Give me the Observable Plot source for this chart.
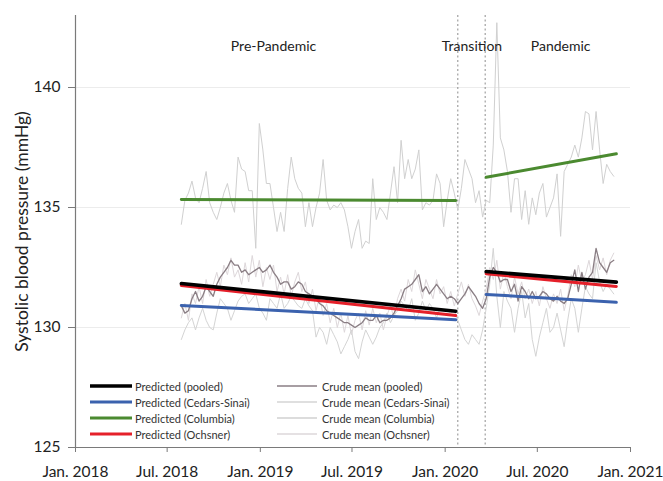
<!DOCTYPE html>
<html>
<head>
<meta charset="utf-8">
<script src="https://cdn.jsdelivr.net/npm/d3@7"></script>
<script src="https://cdn.jsdelivr.net/npm/@observablehq/plot@0.6"></script>
<style>
  html, body { margin: 0; padding: 0; background: #fff; }
  #wrap { position: relative; width: 663px; height: 481px; font-family: Lato, "Open Sans", sans-serif; }
  #legend { position: absolute; left: 90px; top: 378px; font-size: 11px; color: #333; }
  .row { position: absolute; height: 16px; display: flex; align-items: center; white-space: nowrap; }
  .row svg { display: block; margin-right: 3px; }
</style>
</head>
<body>
<div id="wrap"></div>
<script>
// ---- Data (weekly crude means, first week starting 2018-07-29) ----
const firstWeek = "2018-07-29";
const crudePooled = [130.9,130.6,130.7,131.2,131.5,131.1,131.3,131.7,131.5,131.3,131.8,132.1,132.3,132.5,132.8,132.6,132.6,132.3,132.4,132.2,
132.3,132.4,132.5,132.3,132.4,132.6,132.3,132.1,131.8,131.9,131.9,131.6,131.7,131.9,131.8,131.5,131.4,131.3,131.2,131.0,
130.9,130.7,130.6,130.5,130.4,130.3,130.2,130.2,130.1,130.0,130.1,130.2,130.4,130.3,130.3,130.5,130.2,130.3,130.3,130.4,
130.6,130.9,131.2,131.6,131.7,131.8,132.0,132.2,131.5,131.7,131.4,131.6,131.8,131.6,131.4,131.2,131.3,131.2,131.0,131.2,
131.4,131.7,131.5,131.3,131.0,130.8,131.2,132.1,132.5,132.3,131.9,132.0,132.0,131.5,131.8,131.1,131.7,131.5,131.2,131.5,
131.2,131.3,131.5,131.4,131.2,131.1,131.3,131.1,131.0,131.2,131.8,132.4,131.5,132.3,131.6,132.1,132.3,133.3,132.7,132.5,
132.3,132.7,132.8];
const crudeCedars = [129.5,129.9,130.2,130.4,129.9,130.4,130.8,130.3,130.0,129.9,130.6,131.2,131.0,130.8,130.3,130.7,131.1,131.3,131.4,131.0,
131.2,131.4,130.8,130.6,130.3,131.2,131.0,130.8,131.4,130.8,131.0,131.3,131.1,130.9,130.8,131.2,130.9,130.7,129.6,130.0,
129.8,129.3,130.0,129.7,129.4,128.9,129.2,129.5,129.9,129.0,128.7,129.4,129.9,129.6,129.3,129.6,130.0,130.2,130.6,130.2,
130.5,130.7,131.1,130.9,130.7,131.2,130.3,130.6,131.1,130.7,131.0,130.8,130.4,130.8,130.7,130.7,130.6,130.7,130.3,129.9,
129.5,129.3,129.7,129.5,129.3,129.9,130.8,131.8,133.3,131.3,130.0,131.5,131.1,130.8,129.8,130.8,131.5,130.4,131.0,129.5,
128.8,129.6,130.2,130.8,129.8,130.0,130.6,129.9,129.2,130.3,131.2,130.8,129.8,130.8,131.7,131.4,131.2,132.7,131.9,131.5,
131.8,131.6,131.4];
const crudeColumbia = [134.3,135.3,135.6,136.1,135.4,135.2,135.8,136.5,135.2,134.8,134.5,135.0,135.6,136.0,135.3,134.8,137.1,136.6,136.5,135.7,
135.7,133.3,138.5,137.4,136.0,136.0,135.0,134.0,134.8,134.0,135.8,137.1,136.2,135.8,135.6,134.2,135.2,134.2,135.0,135.6,
137.0,135.3,134.9,135.1,135.0,135.2,134.9,134.2,133.3,134.0,134.5,133.3,133.6,133.5,136.2,134.5,135.0,134.8,134.5,135.6,
136.7,135.2,137.8,136.2,137.0,136.2,136.6,137.4,134.9,135.2,135.1,135.3,136.4,136.0,134.2,135.3,136.2,135.6,134.9,135.8,
137.0,136.6,136.2,135.2,135.7,134.6,135.3,135.2,137.6,142.7,137.9,137.4,136.5,134.8,136.2,136.2,134.5,135.7,134.3,135.4,
134.7,135.6,136.0,134.6,135.0,135.4,136.4,133.8,136.5,136.8,137.1,137.6,137.1,137.9,139.0,138.9,137.4,139.0,137.4,136.0,
136.8,136.5,136.3];
const crudeOchsner = [130.4,131.0,130.3,131.4,131.0,131.7,131.0,132.0,131.3,131.8,132.3,131.7,132.6,132.2,132.9,132.1,132.4,131.8,132.7,131.9,
133.0,132.1,132.8,131.7,132.5,132.0,132.6,131.5,132.1,131.4,132.2,131.3,131.9,132.3,131.5,131.9,131.0,131.6,130.7,131.3,
130.5,131.0,130.2,130.8,130.0,130.6,129.8,130.5,129.7,130.3,130.6,129.9,130.7,130.1,130.8,130.2,130.6,129.9,130.5,130.9,
130.4,131.2,131.6,131.1,132.0,131.5,132.4,131.8,131.2,132.0,131.6,131.2,132.0,131.4,131.7,131.0,131.5,130.9,131.4,131.9,
131.3,131.8,131.2,130.9,130.5,131.1,131.6,132.5,132.0,132.8,131.6,132.3,131.7,131.2,132.1,131.4,131.9,131.2,131.6,131.0,
131.5,130.9,131.7,131.2,130.8,131.4,131.0,131.6,130.7,131.3,132.2,131.7,132.6,131.9,132.2,132.8,132.0,133.0,132.4,132.9,
132.2,132.8,133.1];

// ---- Predicted (segmented regression) ----
const predSeries = ["pooled", "Cedars-Sinai", "Columbia", "Ochsner"];
const prePeriod = ["2018-07-29", "2020-01-22"];
const pandemicPeriod = ["2020-03-22", "2020-12-04"];
const preStartVals = [131.83, 130.92, 135.33, 131.75];
const preEndVals   = [130.68, 130.32, 135.29, 130.50];
const panStartVals = [132.33, 131.38, 136.26, 132.24];
const panEndVals   = [131.89, 131.05, 137.24, 131.71];

// ---- Periods / annotations / axes ----
const transitionBounds = ["2020-01-26", "2020-03-20"];
const periodLabels = ["Pre-Pandemic", "Transition", "Pandemic"];
const periodLabelDates = ["2019-01-27", "2020-02-23", "2020-08-16"];
const xTickDates = ["2018-01-01","2018-07-01","2019-01-01","2019-07-01","2020-01-01","2020-07-01","2021-01-01"];
const xTickLabels = ["Jan. 2018","Jul. 2018","Jan. 2019","Jul. 2019","Jan. 2020","Jul. 2020","Jan. 2021"];
const yTicks = [125, 130, 135, 140];
const gridValues = [130, 135, 140];

// ---- Styles ----
const predColors = {"pooled": "#000000", "Cedars-Sinai": "#3b62ae", "Columbia": "#4b8a30", "Ochsner": "#e5202a"};
const crudeColors = {"pooled": "#8a7e84", "Cedars-Sinai": "#d4d4d4", "Columbia": "#d0d0d0", "Ochsner": "#ddd7da"};

// ---- Build tables ----
const parse = s => new Date(s + "T00:00:00Z");
const w0 = parse(firstWeek);
const weekDate = i => d3.utcDay.offset(w0, 7 * i);
const crudeBy = {"pooled": crudePooled, "Cedars-Sinai": crudeCedars, "Columbia": crudeColumbia, "Ochsner": crudeOchsner};
const crudeRows = s => crudeBy[s].map((v, i) => ({series: s, date: weekDate(i), value: v}));

const predRows = [];
predSeries.forEach((s, k) => {
  predRows.push({series: s, period: "pre", date: parse(prePeriod[0]), value: preStartVals[k]});
  predRows.push({series: s, period: "pre", date: parse(prePeriod[1]), value: preEndVals[k]});
  predRows.push({series: s, period: "pan", date: parse(pandemicPeriod[0]), value: panStartVals[k]});
  predRows.push({series: s, period: "pan", date: parse(pandemicPeriod[1]), value: panEndVals[k]});
});
const predFor = s => predRows.filter(d => d.series === s);
const labelRows = periodLabels.map((t, i) => ({text: t, date: parse(periodLabelDates[i])}));
const tickLabelOf = new Map(xTickDates.map((d, i) => [+parse(d), xTickLabels[i]]));

const xDomain = [parse(xTickDates[0]), parse(xTickDates[xTickDates.length - 1])];

const chart = Plot.plot({
  width: 663,
  height: 481,
  marginLeft: 75,
  marginRight: 33,
  marginTop: 15,
  marginBottom: 34,
  style: {fontFamily: "Lato, 'Open Sans', sans-serif", background: "#fff"},
  x: {type: "utc", domain: xDomain},
  y: {domain: [125, 143]},
  marks: [
    Plot.ruleY(gridValues, {stroke: "#ececec", strokeWidth: 1}),
    Plot.ruleX(transitionBounds.map(parse), {stroke: "#8c8c8c", strokeWidth: 1, strokeDasharray: "2,2.5"}),
    Plot.line(crudeRows("Ochsner"), {x: "date", y: "value", stroke: crudeColors["Ochsner"], strokeWidth: 1}),
    Plot.line(crudeRows("Cedars-Sinai"), {x: "date", y: "value", stroke: crudeColors["Cedars-Sinai"], strokeWidth: 1}),
    Plot.line(crudeRows("Columbia"), {x: "date", y: "value", stroke: crudeColors["Columbia"], strokeWidth: 1}),
    Plot.line(crudeRows("pooled"), {x: "date", y: "value", stroke: crudeColors["pooled"], strokeWidth: 1.3}),
    ...["Columbia", "Cedars-Sinai", "Ochsner", "pooled"].map(s =>
      Plot.line(predFor(s), {x: "date", y: "value", z: "period", stroke: predColors[s], strokeWidth: s === "pooled" ? 3.6 : 3})
    ),
    Plot.ruleY([125], {stroke: "#7a7a7a", strokeWidth: 1.2}),
    Plot.ruleX([xDomain[0]], {stroke: "#7a7a7a", strokeWidth: 1.2}),
    Plot.axisX({ticks: xTickDates.map(parse), tickFormat: d => tickLabelOf.get(+d), tickSize: 5, tickPadding: 13, fontSize: 15.5, color: "#222", stroke: "#7a7a7a", label: null}),
    Plot.axisY({ticks: yTicks, tickSize: 7, tickPadding: 8, fontSize: 15.5, color: "#222", stroke: "#7a7a7a",
      label: "Systolic blood pressure (mmHg)", labelAnchor: "center", labelOffset: 60, labelArrow: false}),
    Plot.text(labelRows, {x: "date", text: "text", frameAnchor: "top", dy: 26, fontSize: 14, fill: "#222"})
  ]
});
document.getElementById("wrap").appendChild(chart);

// y-axis label size
d3.select(chart).selectAll("[aria-label='y-axis label'] text, [aria-label='y-axis label']").style("font-size", "17.5px");

// ---- Legend ----
const legend = document.createElement("div");
legend.id = "legend";
const rowsTop = [0, 16, 32, 48];
predSeries.forEach((s, i) => {
  const r1 = document.createElement("div");
  r1.className = "row";
  r1.style.left = "0px"; r1.style.top = rowsTop[i] + "px";
  r1.innerHTML = `<svg width="42" height="8"><line x1="0" x2="42" y1="4" y2="4" stroke="${predColors[s]}" stroke-width="${s === "pooled" ? 3.6 : 3}"/></svg><span>Predicted (${s})</span>`;
  legend.appendChild(r1);
  const r2 = document.createElement("div");
  r2.className = "row";
  r2.style.left = "187px"; r2.style.top = rowsTop[i] + "px";
  r2.innerHTML = `<svg width="40" height="8" style="margin-right:5px"><line x1="0" x2="40" y1="4" y2="4" stroke="${crudeColors[s]}" stroke-width="1.3"/></svg><span>Crude mean (${s})</span>`;
  legend.appendChild(r2);
});
document.getElementById("wrap").appendChild(legend);
</script>
</body>
</html>
